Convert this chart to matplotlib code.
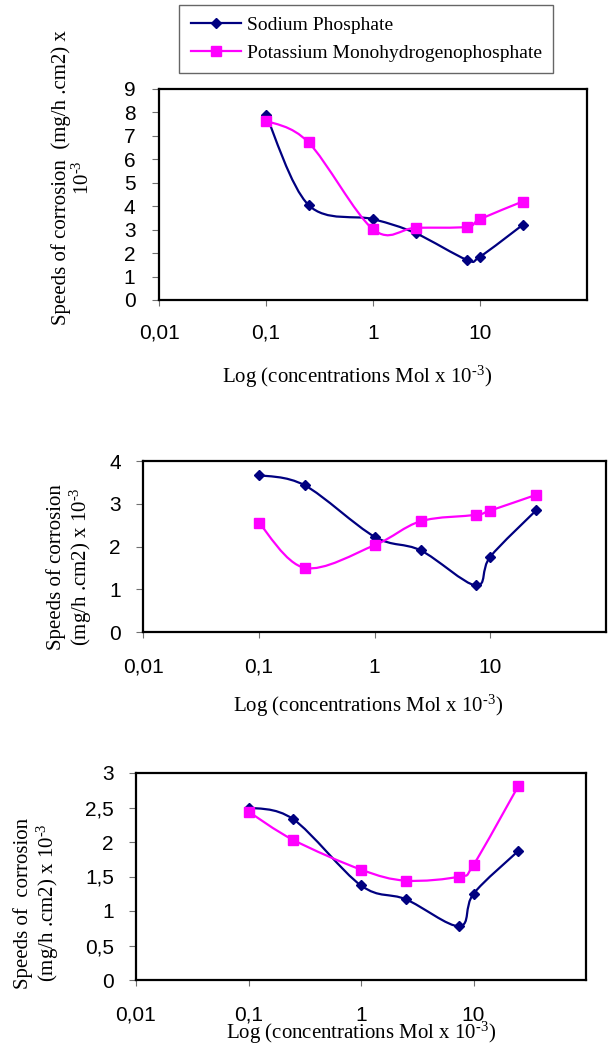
import numpy as np
import matplotlib
matplotlib.use("Agg")
import matplotlib.pyplot as plt
from matplotlib.path import Path
from matplotlib.patches import PathPatch
from matplotlib.lines import Line2D
from matplotlib.ticker import FixedLocator, NullLocator

plt.rcParams["mathtext.fontset"] = "custom"
plt.rcParams["mathtext.rm"] = "Liberation Serif"
plt.rcParams["mathtext.it"] = "Liberation Serif:italic"
plt.rcParams["mathtext.bf"] = "Liberation Serif:bold"

# ---------------- data ----------------
conc = [0.1, 0.25, 1, 2.5, 7.5, 10, 25]
series_names = ["Sodium Phosphate", "Potassium Monohydrogenophosphate"]

p1_sodium = [7.9, 4.05, 3.45, 2.85, 1.72, 1.85, 3.2]
p1_potassium = [7.65, 6.72, 3.02, 3.08, 3.12, 3.45, 4.2]

p2_sodium = [3.67, 3.43, 2.23, 1.91, 1.09, 1.76, 2.85]
p2_potassium = [2.56, 1.50, 2.03, 2.59, 2.74, 2.84, 3.21]

p3_sodium = [2.50, 2.33, 1.37, 1.17, 0.78, 1.25, 1.87]
p3_potassium = [2.44, 2.03, 1.60, 1.44, 1.50, 1.67, 2.81]

xtick_vals = [0.01, 0.1, 1, 10]
xtick_labels = ["0,01", "0,1", "1", "10"]
p1_yticks = [0, 1, 2, 3, 4, 5, 6, 7, 8, 9]
p2_yticks = [0, 1, 2, 3, 4]
p3_yticks = [0, 0.5, 1, 1.5, 2, 2.5, 3]
p3_ytick_labels = ["0", "0,5", "1", "1,5", "2", "2,5", "3"]

NAVY = "#000080"
MAGENTA = "#FF00FF"

W, H = 608, 1045
fig = plt.figure(figsize=(W / 100, H / 100), dpi=100)
fig.patch.set_facecolor("white")

SANS = "Liberation Sans"
SERIF = "Liberation Serif"


def fx(x):
    return x / W


def fy(y):
    return 1 - y / H


def make_axes(left, top, right, bottom):
    return fig.add_axes([fx(left), fy(bottom), (right - left) / W, (bottom - top) / H])


def smooth(ax, x, y, color):
    pts = ax.transData.transform(np.column_stack([x, y]))
    n = len(pts)
    verts = [pts[0]]
    codes = [Path.MOVETO]
    for i in range(n - 1):
        p0 = pts[i - 1] if i > 0 else pts[i]
        p1 = pts[i]
        p2 = pts[i + 1]
        p3 = pts[i + 2] if i + 2 < n else pts[i + 1]
        c1 = p1 + (p2 - p0) / 6.0
        c2 = p2 - (p3 - p1) / 6.0
        verts += [c1, c2, p2]
        codes += [Path.CURVE4] * 3
    data_verts = ax.transData.inverted().transform(np.array(verts))
    patch = PathPatch(Path(data_verts, codes), facecolor="none", edgecolor=color,
                      lw=1.6, transform=ax.transData, zorder=2, capstyle="round",
                      joinstyle="round")
    ax.add_patch(patch)


def setup(ax, yticks, ylabels, ymax, ypad, xpad):
    ax.set_xscale("log")
    ax.set_xlim(0.01, 100)
    ax.set_ylim(0, ymax)
    ax.xaxis.set_major_locator(FixedLocator(xtick_vals))
    ax.xaxis.set_minor_locator(NullLocator())
    ax.set_xticklabels(xtick_labels)
    ax.set_yticks(yticks)
    ax.set_yticklabels(ylabels)
    for s in ax.spines.values():
        s.set_linewidth(1.6)
        s.set_color("black")
    ax.tick_params(axis="y", direction="out", length=5, width=0.8, color="#707070",
                   pad=ypad, labelsize=15)
    ax.tick_params(axis="x", direction="out", length=4, width=0.8, color="#707070",
                   pad=xpad, labelsize=15)
    for lab in ax.get_xticklabels() + ax.get_yticklabels():
        lab.set_fontfamily(SANS)


def draw(ax, sod, pot):
    smooth(ax, conc, sod, NAVY)
    smooth(ax, conc, pot, MAGENTA)
    ax.plot(conc, sod, linestyle="none", marker="D", ms=5.5, color=NAVY, zorder=3)
    ax.plot(conc, pot, linestyle="none", marker="s", ms=7, color=MAGENTA, zorder=3)


SUP = r"10$^{\text{-3}}$"
xlabel = "Log (concentrations Mol x " + SUP + ")"

# Panel 1
ax1 = make_axes(159, 89, 587, 300)
setup(ax1, p1_yticks, [str(v) for v in p1_yticks], 9, 12, 13)
draw(ax1, p1_sodium, p1_potassium)
fig.text(fx(72), fy(178), "Speeds of corrosion  (mg/h .cm2) x\n" + SUP,
         rotation=90, ha="center", va="center", multialignment="center",
         family=SERIF, fontsize=15, linespacing=1.1)
fig.text(fx(357), fy(377), xlabel, ha="center", va="center", family=SERIF, fontsize=15)

# Panel 2
ax2 = make_axes(143, 461, 606, 632)
setup(ax2, p2_yticks, [str(v) for v in p2_yticks], 4, 11, 14.5)
draw(ax2, p2_sodium, p2_potassium)
fig.text(fx(70), fy(567), "Speeds of corrosion\n(mg/h .cm2) x " + SUP,
         rotation=90, ha="center", va="center", multialignment="center",
         family=SERIF, fontsize=15, linespacing=1.05)
fig.text(fx(368), fy(706), xlabel, ha="center", va="center", family=SERIF, fontsize=15)

# Panel 3
ax3 = make_axes(136, 773, 586, 980)
setup(ax3, p3_yticks, p3_ytick_labels, 3, 11, 14.5)
draw(ax3, p3_sodium, p3_potassium)
fig.text(fx(37), fy(903), "Speeds of  corrosion\n(mg/h .cm2) x " + SUP,
         rotation=90, ha="center", va="center", multialignment="center",
         family=SERIF, fontsize=15, linespacing=1.05)
fig.text(fx(361), fy(1033), xlabel, ha="center", va="center", family=SERIF, fontsize=15)

# Legend
handles = [
    Line2D([], [], color=NAVY, lw=1.6, marker="D", ms=5.5),
    Line2D([], [], color=MAGENTA, lw=1.6, marker="s", ms=7),
]
leg = fig.legend(handles, series_names, loc="upper left",
                 bbox_to_anchor=(fx(179), fy(76), (553 - 179) / W, 71 / H),
                 mode="expand", frameon=True, fancybox=False, borderpad=0.6,
                 handlelength=2.6, handletextpad=0.3, labelspacing=0.5,
                 borderaxespad=0, prop={"family": SERIF, "size": 14})
leg.get_frame().set_edgecolor("#404040")
leg.get_frame().set_linewidth(1.0)

fig.savefig("out.png", dpi=100, facecolor="white")
